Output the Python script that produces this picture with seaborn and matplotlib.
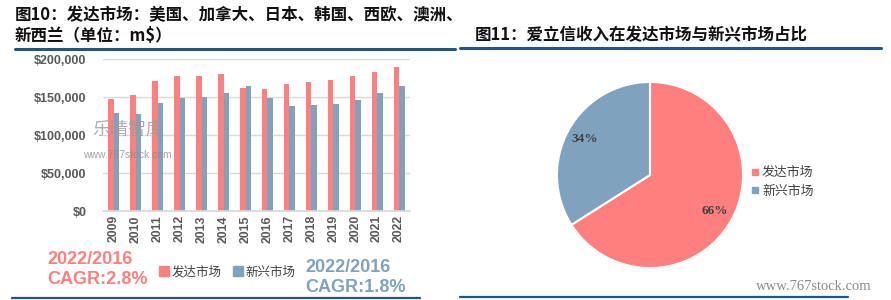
import numpy as np
import pandas as pd
import seaborn as sns
import matplotlib
matplotlib.use("Agg")
import matplotlib.pyplot as plt
from matplotlib.lines import Line2D
from matplotlib.ticker import FuncFormatter

# ---- data ----
years = ["2009", "2010", "2011", "2012", "2013", "2014", "2015",
         "2016", "2017", "2018", "2019", "2020", "2021", "2022"]
developed = [147000, 152000, 171000, 178000, 177000, 180000, 162000,
             160500, 167000, 170000, 172000, 178000, 183000, 189500]
emerging = [128500, 127000, 142000, 149000, 150000, 155000, 164500,
            149000, 138000, 140000, 141000, 146500, 155000, 165000]
series_names = ["发达市场", "新兴市场"]
pie_shares = [66, 34]
y_ticks = [0, 50000, 100000, 150000, 200000]

RED = "#FF7F7F"
BLUE = "#7FA3BE"
DARKBLUE = "#1F5587"

sns.set_theme(style="white")
plt.rcParams["font.family"] = ["Noto Sans CJK SC", "DejaVu Sans"]
CJK = ["Noto Sans CJK SC", "DejaVu Sans"]

W, H = 891, 300
fig = plt.figure(figsize=(W / 100, H / 100), dpi=100)


def fx(x):
    return x / W


def fy(y):
    return 1 - y / H


# ---- left bar chart ----
df = pd.DataFrame({
    "year": years * 2,
    "value": developed + emerging,
    "market": [series_names[0]] * len(years) + [series_names[1]] * len(years),
})
ax = fig.add_axes([fx(103), fy(211), fx(410) - fx(103), fy(59) - fy(211)])
sns.barplot(data=df, x="year", y="value", hue="market", order=years,
            hue_order=series_names, palette=[RED, BLUE], width=0.5, gap=0,
            saturation=1, ax=ax, legend=False, edgecolor="none")
ax.set_ylim(0, 200000)
ax.set_yticks(y_ticks)
ax.yaxis.set_major_formatter(FuncFormatter(lambda v, p: "$" + format(int(v), ",")))
ax.grid(axis="y", color="#D9D9D9", lw=1)
ax.set_axisbelow(True)
for s in ["top", "right", "left"]:
    ax.spines[s].set_visible(False)
ax.spines["bottom"].set_color("#D9D9D9")
ax.set_xlabel("")
ax.set_ylabel("")
ax.tick_params(axis="y", length=0, pad=12, labelsize=9, labelcolor="#595959")
ax.tick_params(axis="x", length=0, pad=3, labelsize=8.8, labelcolor="#595959",
               labelrotation=90)
for lab in ax.get_yticklabels() + ax.get_xticklabels():
    lab.set_family("Liberation Sans")
    lab.set_fontweight("bold")

handles = [Line2D([], [], marker="s", ls="", color=RED, markersize=6.5),
           Line2D([], [], marker="s", ls="", color=BLUE, markersize=6.5)]
fig.legend(handles, series_names, loc="center", bbox_to_anchor=(fx(228), fy(272)),
           ncol=2, frameon=False, handlelength=0.6, handletextpad=0.3,
           columnspacing=1.0, prop={"family": CJK, "size": 9}, labelcolor="#404040")

# CAGR annotations
fig.text(fx(90), fy(260), "2022/2016", color=RED, fontsize=13, fontweight="bold",
         family="Liberation Sans", ha="center", va="center")
fig.text(fx(97), fy(280), "CAGR:2.8%", color=RED, fontsize=13, fontweight="bold",
         family="Liberation Sans", ha="center", va="center")
fig.text(fx(348), fy(267), "2022/2016", color=BLUE, fontsize=13, fontweight="bold",
         family="Liberation Sans", ha="center", va="center")
fig.text(fx(356), fy(288), "CAGR:1.8%", color=BLUE, fontsize=13, fontweight="bold",
         family="Liberation Sans", ha="center", va="center")

# watermarks
fig.text(fx(128), fy(130), "乐晴智库", color="#9A9A9A", alpha=0.8, fontsize=13,
         family=CJK, ha="center", va="center")
fig.text(fx(127), fy(155), "www.767stock.com", color="#8A8A8A", alpha=0.8,
         fontsize=7.5, family="Liberation Sans", ha="center", va="center")

# titles
fig.text(fx(15), fy(15), "图10：发达市场：美国、加拿大、日本、韩国、西欧、澳洲、",
         fontsize=11.9, fontweight="bold", family=CJK, color="#111111",
         ha="left", va="center")
fig.text(fx(15), fy(36), "新西兰（单位：m$）", fontsize=11.9, fontweight="bold",
         family=CJK, color="#111111", ha="left", va="center")
fig.text(fx(475), fy(35), "图11：爱立信收入在发达市场与新兴市场占比",
         fontsize=11.9, fontweight="bold", family=CJK, color="#111111",
         ha="left", va="center")

# rule lines
for x0, x1, y, lw in [(15, 455, 49, 2.2), (460, 881, 48, 2.2),
                      (12, 420, 298, 1.6), (460, 848, 297, 1.6)]:
    fig.add_artist(Line2D([fx(x0), fx(x1)], [fy(y), fy(y)], color=DARKBLUE,
                          lw=lw, transform=fig.transFigure))

# ---- right pie chart ----
pax = fig.add_axes([fx(550), fy(275), fx(750) - fx(550), fy(75) - fy(275)])
wedges, texts, autotexts = pax.pie(
    pie_shares, colors=[RED, BLUE], startangle=90, counterclock=False,
    autopct=lambda p: f"{p:.0f}%", pctdistance=0.8,
    wedgeprops={"edgecolor": "white", "linewidth": 1.5},
    textprops={"family": "Liberation Serif", "fontweight": "bold",
               "fontsize": 9.5, "color": "#404040"})
pax.set_xlim(-1.075, 1.075)
pax.set_ylim(-1.075, 1.075)
pax.set_aspect("equal")
pax.axis("off")

phandles = [Line2D([], [], marker="s", ls="", color=RED, markersize=4.5),
            Line2D([], [], marker="s", ls="", color=BLUE, markersize=4.5)]
fig.legend(phandles, series_names, loc="center left",
           bbox_to_anchor=(fx(740), fy(182)), ncol=1, frameon=False,
           handlelength=0.5, handletextpad=0.3, labelspacing=0.45,
           prop={"family": CJK, "size": 9.3}, labelcolor="#404040")

fig.text(fx(814), fy(287), "www.767stock.com", color="#8A8A8A", fontsize=10.5,
         family="Liberation Serif", ha="center", va="center")

fig.savefig("out.png", dpi=100)
